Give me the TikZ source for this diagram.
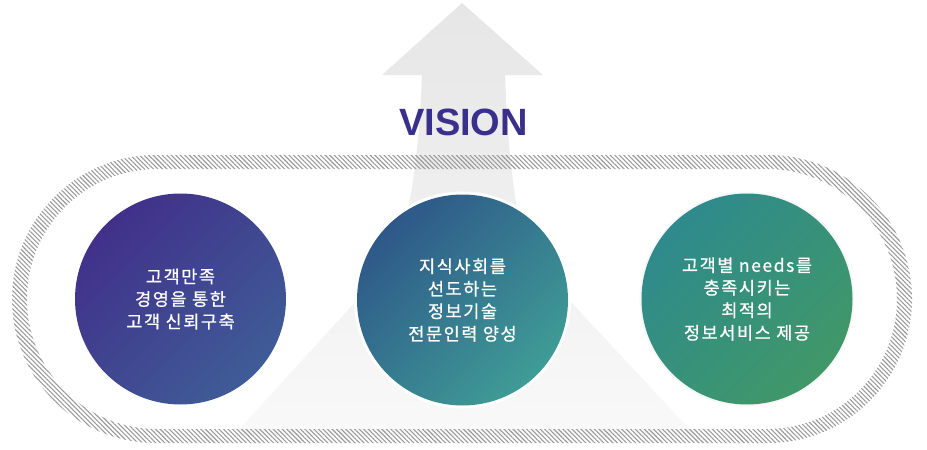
\documentclass[tikz,border=0pt]{standalone}
\usepackage{fontspec}
\newfontfamily\krfont[FakeBold=0.8,LetterSpace=9]{Noto Sans CJK KR}
\newfontfamily\visfont{Liberation Sans}
\usepackage{tikz}
\usetikzlibrary{patterns.meta,positioning,calc}

\definecolor{VisionInk}{HTML}{39308C}
\definecolor{ArrowTop}{HTML}{E6E6E6}
\definecolor{ArrowBot}{HTML}{F9F9F9}
\definecolor{HatchGray}{HTML}{9A9A9A}
\definecolor{GoalOneA}{HTML}{41308A}
\definecolor{GoalOneB}{HTML}{3F5C97}
\definecolor{GoalTwoA}{HTML}{2E5889}
\definecolor{GoalTwoB}{HTML}{3F9C96}
\definecolor{GoalThreeA}{HTML}{2E8A8C}
\definecolor{GoalThreeB}{HTML}{409868}

\tikzset{
  goal/.style={circle, minimum size=211pt, inner sep=0pt,
    text=white, align=center, font=\krfont\fontsize{17.5}{22.5}\selectfont},
  tilt/.style={shading angle=45},
}

\begin{document}
\begin{tikzpicture}[x=1pt,y=-1pt]
			\useasboundingbox (0,0) rectangle (927,450);
			
			% Upward arrow flaring into a triangle
			\shade[top color=ArrowTop, bottom color=ArrowBot]
			(382,75) -- (462,3) -- (543,75) -- (505,75)
			.. controls (508,150) and (513,200) .. (527,255) -- (696,436)
			-- (233,436) -- (398,255)
			.. controls (412,200) and (419,150) .. (422,75) -- cycle;
			
			% Hatched track
			\path[pattern={Lines[angle=-45, distance=3.2pt, line width=1.1pt]},
			pattern color=HatchGray, even odd rule]
			[rounded corners=143.9pt] (12,155) rectangle (912,443)
			[rounded corners=129.9pt] (27,169) rectangle (897,429);
			
			% Title
			\node[font=\visfont\bfseries\fontsize{38}{38}\selectfont, text=VisionInk]
			(vision) at (463.5,122.5) {VISION};
			
			% Three goals
			\node[goal, top color=GoalOneA, bottom color=GoalOneB, tilt] (goal1) at (180.5,299)
			{고객만족\\경영을 통한\\고객 신뢰구축};
			\fill[white] (462.5,300) circle (108.5pt);
			\node[goal, top color=GoalTwoA, bottom color=GoalTwoB, tilt] (goal2) at (462.5,300)
			{지식사회를\\선도하는\\정보기술\\전문인력 양성};
			\fill[gray!6] (747,299) circle (107.5pt);
			\node[goal, top color=GoalThreeA, bottom color=GoalThreeB, tilt] (goal3) at (747,299)
			{고객별 needs를\\충족시키는\\최적의\\정보서비스 제공};
\end{tikzpicture}
\end{document}
